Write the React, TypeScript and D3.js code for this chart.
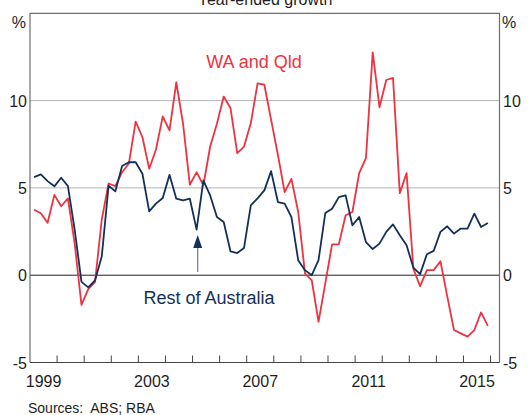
import React from "react";
import * as d3 from "d3";

// Quarterly year-ended growth, 1999 Q1 – 2015 Q4 (%)
const startYear = 1999;
const waQld: number[] = [
  3.75, 3.55, 3.0, 4.6, 3.95, 4.4, 1.8, -1.7, -0.8, -0.4, 3.2, 5.25,
  5.1, 5.9, 6.4, 8.8, 7.9, 6.1, 7.2, 9.1, 8.3, 11.05, 8.67, 5.18,
  5.9, 5.14, 7.37, 8.67, 10.23, 9.58, 6.99, 7.37, 8.7, 10.99, 10.91, 8.9,
  6.9, 4.76, 5.52, 3.62, 0.1, -0.29, -2.67, -0.47, 1.77, 1.77, 3.43, 3.62,
  5.85, 6.7, 12.76, 9.62, 11.18, 11.3, 4.7, 5.85, 0.38, -0.63, 0.29, 0.29,
  0.8, -1.2, -3.14, -3.33, -3.52, -3.14, -2.13, -2.9,
];
const restOfAustralia: number[] = [
  5.62, 5.77, 5.39, 5.09, 5.58, 5.1, 2.6, -0.38, -0.7, -0.3, 1.08, 5.12,
  4.8, 6.25, 6.47, 6.47, 5.81, 3.66, 4.1, 4.42, 5.75, 4.38, 4.29, 4.38,
  2.61, 5.43, 4.57, 3.33, 3.05, 1.37, 1.27, 1.56, 4.0, 4.4, 4.86, 5.96,
  4.19, 4.1, 3.33, 0.86, 0.29, 0.0, 0.86, 3.56, 3.81, 4.47, 4.57, 2.86,
  3.33, 1.9, 1.5, 1.81, 2.48, 2.91, 2.29, 1.71, 0.44, 0.06, 1.2, 1.39,
  2.48, 2.8, 2.38, 2.67, 2.67, 3.53, 2.76, 2.99,
];
const yTicks = [-5, 0, 5, 10];
const yearLabels = [1999, 2003, 2007, 2011, 2015];
const yearTicks = d3.range(2000, 2017);

const W = 529;
const H = 415;
const FONT = "'Liberation Sans', Arial, sans-serif";
const RED = "#ee3340";
const NAVY = "#14305a";
const TXT = "#1e1e1e";

export default function App() {
  const x = d3.scaleLinear().domain([1999, 2016.33]).range([30, 499.5]);
  const y = d3.scaleLinear().domain([-5, 15]).range([362.5, 13.3]);
  const tOf = (i: number) => startYear + 0.15 + i * 0.25;

  const line = d3
    .line<number>()
    .x((_, i) => x(tOf(i)))
    .y((d) => y(d));

  const [x0, x1] = x.range();
  const [yb, yt] = y.range();

  return (
    <svg
      width={W}
      height={H}
      style={{ position: "absolute", left: 0, top: 0, background: "#fff" }}
      fontFamily={FONT}
    >
      <rect x={0} y={0} width={W} height={H} fill="#fff" />
      <text x={265} y={4.5} textAnchor="middle" fontSize={16} fill={TXT}>
        Year-ended growth
      </text>

      {/* gridlines */}
      {[5, 10].map((v) => (
        <line key={v} x1={x0} x2={x1} y1={y(v)} y2={y(v)} stroke="#b4b4b4" strokeWidth={1} />
      ))}
      <line x1={x0} x2={x1} y1={y(0)} y2={y(0)} stroke="#222" strokeWidth={1} />

      {/* frame */}
      <path
        d={`M${x0},${yb}V${yt}H${x1}V${yb}`}
        fill="none"
        stroke="#6e6e6e"
        strokeWidth={1.2}
      />
      <line x1={x0} x2={x1} y1={yb} y2={yb} stroke="#444" strokeWidth={1.2} />
      {yearTicks.map((yr) => (
        <line key={yr} x1={x(yr)} x2={x(yr)} y1={yb} y2={yb - 7} stroke="#444" strokeWidth={1} />
      ))}

      {/* y labels */}
      {yTicks.map((v) => (
        <g key={v} fontSize={16} fill={TXT}>
          <text x={27} y={y(v) + 6} textAnchor="end">{v}</text>
          <text x={503} y={y(v) + 6} textAnchor="start">{v}</text>
        </g>
      ))}
      <text x={26} y={28} textAnchor="end" fontSize={16} fill={TXT}>%</text>
      <text x={502} y={28} textAnchor="start" fontSize={16} fill={TXT}>%</text>

      {/* x labels */}
      {yearLabels.map((yr) => (
        <text key={yr} x={x(yr + 0.5)} y={387} textAnchor="middle" fontSize={16} fill={TXT}>
          {yr}
        </text>
      ))}

      {/* series */}
      <path d={line(waQld) || ""} fill="none" stroke={RED} strokeWidth={1.8} strokeLinejoin="round" />
      <path d={line(restOfAustralia) || ""} fill="none" stroke={NAVY} strokeWidth={1.8} strokeLinejoin="round" />

      {/* annotations */}
      <text x={254} y={68} textAnchor="middle" fontSize={18} fill={RED}>WA and Qld</text>
      <text x={209} y={304} textAnchor="middle" fontSize={18} fill={NAVY}>Rest of Australia</text>
      <line x1={197.7} x2={197.7} y1={246} y2={272} stroke="#6a7890" strokeWidth={1.2} />
      <path d="M197.7,235 L193.2,248 L202.2,248 Z" fill={NAVY} />

      <text x={28} y={413} fontSize={14} fill={TXT} style={{ whiteSpace: "pre" }}>
        {"Sources:  ABS; RBA"}
      </text>
    </svg>
  );
}
